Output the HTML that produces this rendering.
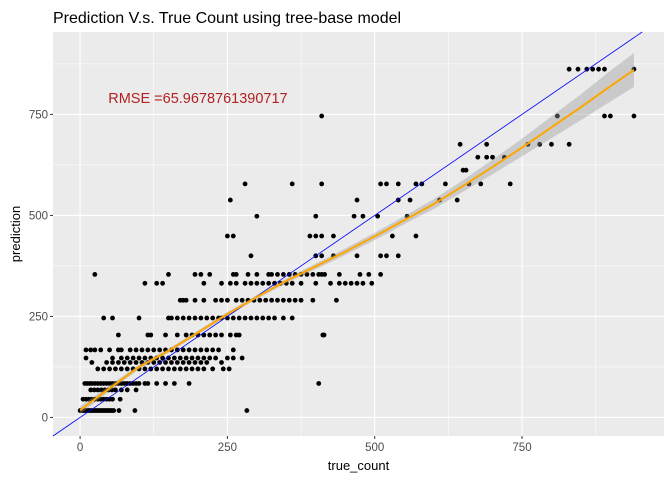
<!DOCTYPE html>
<html><head><meta charset="utf-8"><style>
body{margin:0;background:#fff;}
svg{display:block;font-family:"Liberation Sans",sans-serif;}
</style></head><body>
<svg id="chart" width="672" height="480"></svg>
<script>
const levels=[17,45,68,84,120,136,147,167,204,246,290,332,354,400,449,498,538,578,612,644,676,746,862];
const trueByLevel=[
[0,3,6,9,12,15,18,21,24,27,30,33,36,39,42,45,48,51,54,57,66,93,283],
[5,10,15,20,25,30,35,40,45,50,55,68],
[18,24,30,36,42,48,54,60,70,80,95],
[8,12,16,20,25,30,35,40,45,50,55,60,65,70,75,80,85,90,95,100,110,115,130,145,160,185,405],
[30,40,50,60,70,80,90,100,110,120,130,140,150,160,170,180,190,200,210,225,243,253],
[20,45,55,65,75,85,95,105,115,125,135,145,155,165,175,185,195,205,215,240],
[10,55,70,80,90,100,110,120,130,140,150,160,170,180,190,200,210,220,230,250,260,275],
[10,18,25,35,50,65,70,85,95,105,115,125,135,145,155,165,175,185,195,205,215,225,235,260],
[65,115,120,145,165,180,190,200,210,220,230,240,255,265,270,412,414],
[40,55,100,150,155,165,175,185,195,205,215,225,235,240,250,260,270,280,290,300,310,320,330,345,360],
[170,175,180,195,210,230,240,250,265,275,285,295,305,315,325,335,345,355,365,375,395,435],
[110,130,140,210,240,255,265,280,290,300,310,320,330,340,350,360,375,400,425,440,450,460,470,480,495],
[25,150,195,205,220,260,265,285,300,320,325,335,345,355,365,375,385,395,405,410,415,440,475,490,510],
[290,400,410,430,470,510,520,540],
[250,260,390,400,410,430,530,570],
[300,400,465,480,505,555],
[255,470,540,560,610,640],
[280,360,410,510,520,540,570,580,620,660,680,730],
[650,655],
[675,690,700,720],
[645,690,760,780,800,830],
[410,810,890,900,940],
[830,845,860,870,880,890,940]
];
const smoothX=[0,50,100,150,200,250,300,350,400,450,500,550,600,650,700,750,800,850,900,940];
const smoothY=[18,72,125,165,210,256,298,338,374,410,448,488,528,573,620,668,718,768,820,860];
const smoothSE=[10,7,6,5,5,5,5,6,7,8,9,10,12,14,18,22,27,32,38,42];
const xTicks=[0,250,500,750];
const yTicks=[0,250,500,750];
const NS='http://www.w3.org/2000/svg';
const svg=document.getElementById('chart');
const L=53,R=664,T=32,B=436;
const xMin=-46,xMax=991,yMin=-46,yMax=954;
const sx=v=>L+(v-xMin)/(xMax-xMin)*(R-L);
const sy=v=>B-(v-yMin)/(yMax-yMin)*(B-T);
function mk(t,a,p){const e=document.createElementNS(NS,t);for(const k in a)e.setAttribute(k,a[k]);(p||svg).appendChild(e);return e;}
const panel=mk('rect',{x:L,y:T,width:R-L,height:B-T,fill:'#EBEBEB'});


const grid=mk('g',{});


for(let i=0;i<xTicks.length;i++){
 mk('line',{x1:sx(xTicks[i]),x2:sx(xTicks[i]),y1:T,y2:B,stroke:'#fff','stroke-width':1.1},grid);
 const m=xTicks[i]+125;mk('line',{x1:sx(m),x2:sx(m),y1:T,y2:B,stroke:'#fff','stroke-width':0.5},grid);
 mk('line',{x1:sx(xTicks[i]),x2:sx(xTicks[i]),y1:B,y2:B+3,stroke:'#333','stroke-width':1},grid);
 const t=mk('text',{x:sx(xTicks[i]),y:B+15,'text-anchor':'middle','font-size':11.5,fill:'#4d4d4d'});
 t.textContent=xTicks[i];
 
 
}
mk('line',{x1:sx(-125),x2:sx(-125),y1:T,y2:B,stroke:'#fff','stroke-width':0.5},grid);
for(let i=0;i<yTicks.length;i++){
 mk('line',{x1:L,x2:R,y1:sy(yTicks[i]),y2:sy(yTicks[i]),stroke:'#fff','stroke-width':1.1},grid);
 const m=yTicks[i]+125;mk('line',{x1:L,x2:R,y1:sy(m),y2:sy(m),stroke:'#fff','stroke-width':0.5},grid);
 mk('line',{x1:L-3,x2:L,y1:sy(yTicks[i]),y2:sy(yTicks[i]),stroke:'#333','stroke-width':1},grid);
 const t=mk('text',{x:L-5,y:sy(yTicks[i])+4,'text-anchor':'end','font-size':11.5,fill:'#4d4d4d'});
 t.textContent=yTicks[i];
 
 
}
const pts=mk('g',{});


for(let i=0;i<levels.length;i++)for(const x of trueByLevel[i]){
 const c=mk('circle',{cx:sx(x),cy:sy(levels[i]),r:2.4,fill:'#000'},pts);
 
 
}
let up='',dn='';
for(let i=0;i<smoothX.length;i++){up+=(i?'L':'M')+sx(smoothX[i])+','+sy(smoothY[i]+smoothSE[i]);}
for(let i=smoothX.length-1;i>=0;i--){dn+='L'+sx(smoothX[i])+','+sy(smoothY[i]-smoothSE[i]);}
const rib=mk('path',{d:up+dn+'Z',fill:'#999','fill-opacity':0.4});


const ref=mk('line',{x1:sx(xMin),y1:sy(xMin),x2:sx(954),y2:sy(954),stroke:'#0000ff','stroke-width':0.8});


let d='';for(let i=0;i<smoothX.length;i++)d+=(i?'L':'M')+sx(smoothX[i])+','+sy(smoothY[i]);
const sm=mk('path',{d:d,fill:'none',stroke:'#FFA500','stroke-width':2});


const rm=mk('text',{x:sx(200),y:sy(778),'text-anchor':'middle','font-size':14.5,fill:'#B22222'});
rm.textContent='RMSE =65.9678761390717';


const ti=mk('text',{x:53,y:23,'font-size':16,fill:'#000'});
ti.textContent='Prediction V.s. True Count using tree-base model';


const xl=mk('text',{x:(L+R)/2,y:470,'text-anchor':'middle','font-size':13,fill:'#000'});
xl.textContent='true_count';


const yl=mk('text',{x:20,y:(T+B)/2,'text-anchor':'middle','font-size':13,fill:'#000',transform:'rotate(-90 20 '+((T+B)/2)+')'});
yl.textContent='prediction';


</script>
</body></html>
